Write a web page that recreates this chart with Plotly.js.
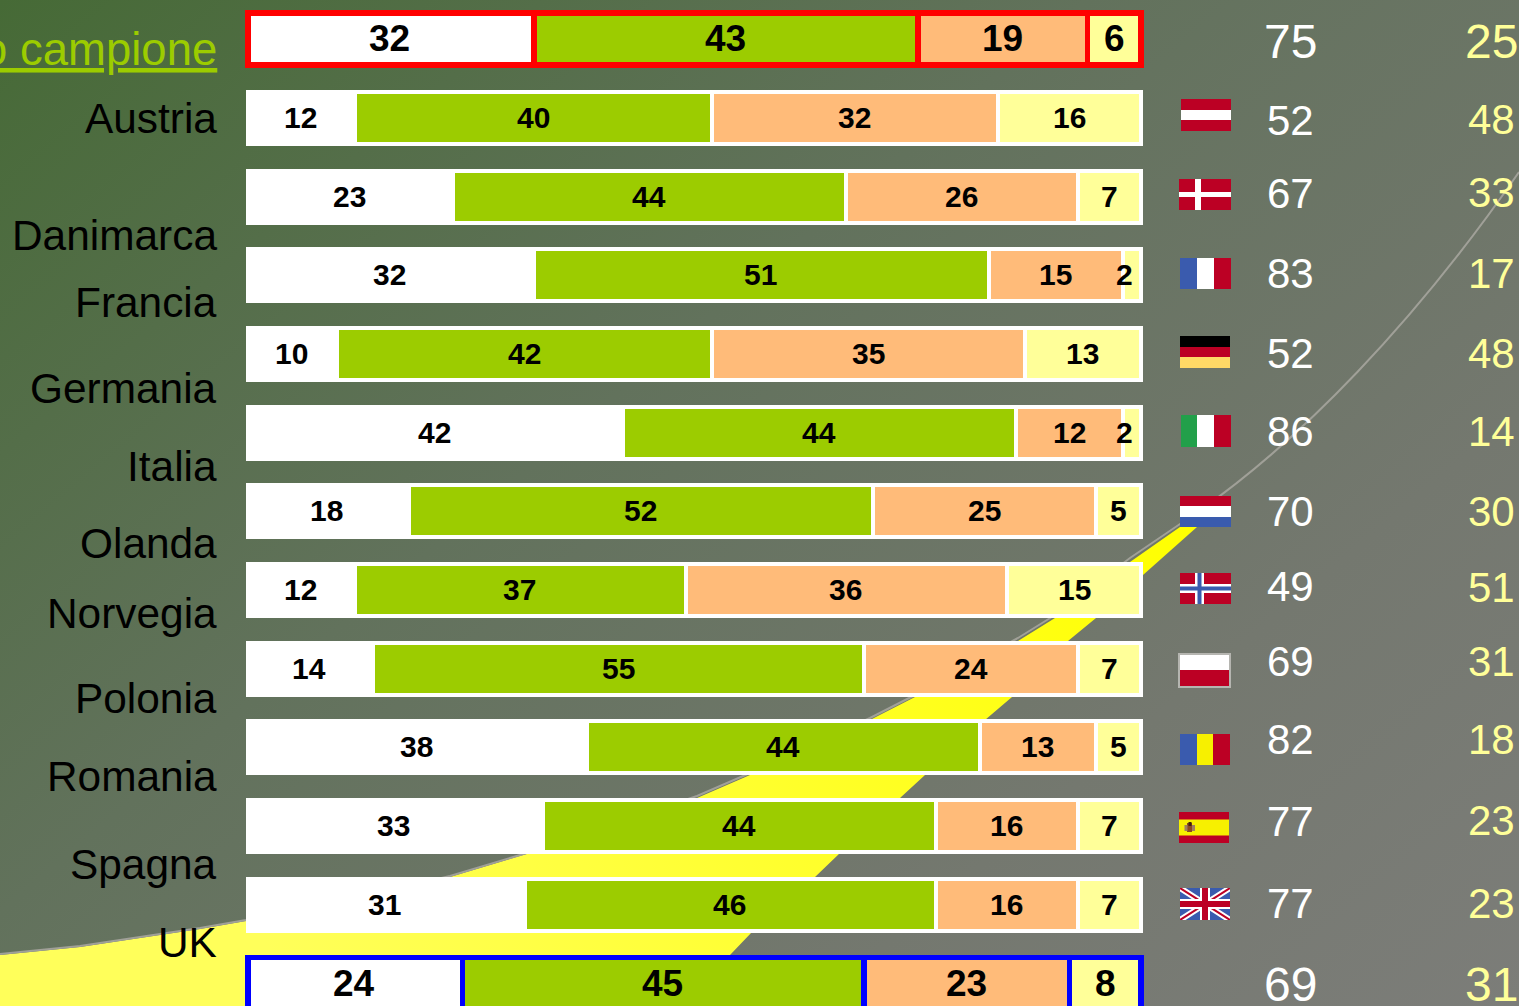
<!DOCTYPE html>
<html>
<head>
<meta charset="utf-8">
<script src="https://cdn.plot.ly/plotly-3.0.1.min.js"></script>
<style>
html,body{margin:0;padding:0;width:1519px;height:1006px;overflow:hidden;
background:linear-gradient(140deg,#466a36 0%,#62725c 40%,#74786f 74%,#7c7d79 100%);}
#chart{width:1519px;height:1006px;}
</style>
</head>
<body>
<div id="chart"></div>
<script>
// ---- data ----
const categories = ["Intero campione","Austria","Danimarca","Francia","Germania","Italia","Olanda","Norvegia","Polonia","Romania","Spagna","UK","Totale"];
const rowLabels = ["Intero campione","Austria","Danimarca","Francia","Germania","Italia","Olanda","Norvegia","Polonia","Romania","Spagna","UK"];
const seriesWhite  = [32,12,23,32,10,42,18,12,14,38,33,31,24];
const seriesGreen  = [43,40,44,51,42,44,52,37,55,44,44,46,45];
const seriesOrange = [19,32,26,15,35,12,25,36,24,13,16,16,23];
const seriesYellow = [ 6,16, 7, 2,13, 2, 5,15, 7, 5, 7, 7, 8];
const totalLeft  = [75,52,67,83,52,86,70,49,69,82,77,77,69];
const totalRight = [25,48,33,17,48,14,30,51,31,18,23,23,31];

// ---- layout constants (pixels) ----
const W = 1519, H = 1006;
const x0Px = 248, x100Px = 1141, row0Px = 39.1, rowStepPx = 78.7;
const labelRightPx = 219;
const labelYPx = [50,118,235,302.5,388,466,543,613.5,698,776,864,942];
const leftColXPx = 1290, rightColXPx = 1491.5;
const leftColYPx  = [42,120.5,193.5,273,354,432,511,586.5,661.5,739.5,821.5,903.5,984];
const rightColYPx = [42,120,193,273,354,432,511,587,661.5,739.5,820.5,903.5,984.5];
const px = v => v / W, py = v => 1 - v / H;
const unit = (x100Px - x0Px) / 100;
const isEnd = i => i === 0 || i === categories.length - 1;
const FONT = '"Liberation Sans", Arial, sans-serif';

const lineColors = categories.map((c, i) => i === 0 ? '#ff0000' : (i === categories.length - 1 ? '#0000ff' : '#ffffff'));
const lineWidths = categories.map((c, i) => isEnd(i) ? 5.5 : 4);
const barHeights = categories.map(() => 52 / rowStepPx);
const textSizes = categories.map((c, i) => isEnd(i) ? 37 : 30);

function seg(values, color) {
  return {
    type: 'bar', orientation: 'h', y: categories, x: values,
    width: barHeights, cliponaxis: true, showlegend: false,
    marker: {color: color, line: {color: lineColors, width: lineWidths}},
    hoverinfo: 'skip'
  };
}
const seriesAll = [seriesWhite, seriesGreen, seriesOrange, seriesYellow];
const seriesShift = [-1.5, -0.5, -0.5, 0];
const traces = [
  seg(seriesWhite, '#ffffff'), seg(seriesGreen, '#9ccc00'),
  seg(seriesOrange, '#ffbb79'), seg(seriesYellow, '#ffff99')
];

const annotations = [];
rowLabels.forEach((t, i) => annotations.push({
  xref: 'paper', yref: 'paper', x: px(labelRightPx), y: py(labelYPx[i]), xanchor: 'right', yanchor: 'middle',
  showarrow: false, text: i === 0 ? '<u>' + t + '</u>' : t,
  font: {family: FONT, size: i === 0 ? 45.5 : 42.4, color: i === 0 ? '#9ccc00' : '#000000'}
}));
categories.forEach((c, i) => {
  annotations.push({xref:'paper',yref:'paper',x:px(leftColXPx),y:py(leftColYPx[i]),xanchor:'center',yanchor:'middle',showarrow:false,
    text:String(totalLeft[i]),font:{family:FONT,size:isEnd(i)?48:42,color:'#ffffff'}});
  annotations.push({xref:'paper',yref:'paper',x:px(rightColXPx),y:py(rightColYPx[i]),xanchor:'center',yanchor:'middle',showarrow:false,
    text:String(totalRight[i]),font:{family:FONT,size:isEnd(i)?48:42,color:'#ffff99'}});
  let cum = 0;
  seriesAll.forEach((vals, s) => {
    const v = vals[i];
    annotations.push({xref:'x',yref:'y',x:cum+v/2,y:c,xshift:v<=2?-8:seriesShift[s],yshift:0.5,xanchor:'center',yanchor:'middle',showarrow:false,
      text:'<b>'+v+'</b>',font:{family:FONT,size:textSizes[i],color:'#000000'}});
    cum += v;
  });
});

// ---- decoration: swoosh and flags ----
const toPx = pts => pts.map((p, i) => (i ? 'L' : 'M') + p[0] + ' ' + p[1]).join(' ');
const P = pts => pts.map((p, i) => (i ? 'L' : 'M') + px(p[0]).toFixed(5) + ',' + py(p[1]).toFixed(5)).join(' ');
const upper = [[0,955],[40,951],[80,947],[120,941],[160,935],[200,929],[246,921],[350,900],[450,877],[530,853],[697,798],[750,775],[870,720],[915,697],[1018,641],[1055,618],[1130,562],[1180,527],[1197,527]];
const lower = [[1143,575],[1096,618],[1068,641],[1012,697],[985,720],[925,775],[900,798],[840,853],[815,877],[752,932],[730,955],[680,1006],[0,1006]];
const lineEdge = [[0,954],[40,950],[80,946],[120,940],[160,934],[200,928],[246,920],[350,899],[450,876],[530,852],[697,796],[750,773],[870,718],[915,695],[1018,638],[1055,615],[1130,558],[1180,524]];
const cur = (a,b,c) => [a,b,c].map((p,i)=>(i?' ':'C')+px(p[0]).toFixed(5)+','+py(p[1]).toFixed(5)).join('');
const shapes = [
  {type:'path',xref:'paper',yref:'paper',layer:'below',path:P(lineEdge)+' '+cur([1300,445],[1420,315],[1519,172]),line:{color:'#a0a098',width:2}}
];

const swooshSvg = `<svg xmlns="http://www.w3.org/2000/svg" width="${W}" height="${H}" viewBox="0 0 ${W} ${H}"><defs><linearGradient id="g" gradientUnits="userSpaceOnUse" x1="1197" y1="527" x2="300" y2="1006"><stop offset="0" stop-color="#ffff00"/><stop offset="1" stop-color="#ffff5a"/></linearGradient></defs><path d="${toPx(upper.concat(lower))} Z" fill="url(#g)"/></svg>`;

const RED='#bc0024', BLUE='#3a5bae';
const r=(x,y,w,h,c)=>`<rect x="${x}" y="${y}" width="${w}" height="${h}" fill="${c}"/>`;
const flagSvg = {
  Austria: r(0,0,50,32,RED)+r(0,11,50,10,'#fff'),
  Danimarca: r(0,0,52,31,RED)+r(16,0,6,31,'#fff')+r(0,13,52,5,'#fff'),
  Francia: r(0,0,17,31,BLUE)+r(17,0,17,31,'#fff')+r(34,0,17,31,RED),
  Germania: r(0,0,50,11,'#000')+r(0,11,50,10,RED)+r(0,21,50,11,'#ffd966'),
  Italia: r(0,0,16,32,'#22a04a')+r(16,0,17,32,'#fff')+r(33,0,17,32,RED),
  Olanda: r(0,0,51,10,RED)+r(0,10,51,11,'#fff')+r(0,21,51,10,BLUE),
  Norvegia: r(0,0,51,31,RED)+r(15,0,9,31,'#fff')+r(0,11,51,9,'#fff')+r(17.5,0,4,31,BLUE)+r(0,13.5,51,4,BLUE),
  Polonia: r(0,0,53,35,'#b5b5b0')+r(2,2,49,15,'#fff')+r(2,17,49,16,RED),
  Romania: r(0,0,17,31,BLUE)+r(17,0,16,31,'#f7f000')+r(33,0,17,31,RED),
  Spagna: r(0,0,50,31,RED)+r(0,7.5,50,16,'#f7f000')+r(8,11,5,9,'#8a4a20')+r(9.5,10,3,4,'#402010')+r(13,13,3,6,'#a08060')+r(5.5,13,3,6,'#a08060'),
  UK: r(0,0,50,32,BLUE)+'<path d="M0 0L50 32M50 0L0 32" stroke="#fff" stroke-width="6"/><path d="M0 0L50 32M50 0L0 32" stroke="#bc0024" stroke-width="2"/>'+r(20,0,10,32,'#fff')+r(0,11,50,10,'#fff')+r(22,0,6,32,RED)+r(0,13,50,6,RED)
};
const flagBox = {Austria:[1181,99,50,32],Danimarca:[1179,179,52,31],Francia:[1180,258,51,31],Germania:[1180,336,50,32],Italia:[1181,415,50,32],Olanda:[1180,496,51,31],Norvegia:[1180,573,51,31],Polonia:[1178,653,53,35],Romania:[1180,734,50,31],Spagna:[1179,812,50,31],UK:[1180,888,50,32]};
const images = [{source:'data:image/svg+xml;charset=utf-8,'+encodeURIComponent(swooshSvg),xref:'paper',yref:'paper',x:0,y:1,sizex:1,sizey:1,sizing:'stretch',xanchor:'left',yanchor:'top',layer:'below'}]
.concat(Object.keys(flagSvg).map(k => {
  const b = flagBox[k];
  const svg = `<svg xmlns="http://www.w3.org/2000/svg" width="${b[2]}" height="${b[3]}" viewBox="0 0 ${b[2]} ${b[3]}">${flagSvg[k]}</svg>`;
  return {source:'data:image/svg+xml;charset=utf-8,'+encodeURIComponent(svg),xref:'paper',yref:'paper',
    x:px(b[0]),y:py(b[1]),sizex:b[2]/W,sizey:b[3]/H,sizing:'stretch',xanchor:'left',yanchor:'top',layer:'above'};
}));

const layout = {
  width: W, height: H, autosize: false,
  margin: {l:0,r:0,t:0,b:0,pad:0},
  paper_bgcolor: 'rgba(0,0,0,0)', plot_bgcolor: 'rgba(0,0,0,0)',
  barmode: 'stack', hovermode: false, showlegend: false,
  xaxis: {range:[-x0Px/unit,(W-x0Px)/unit],visible:false,fixedrange:true},
  yaxis: {type:'category',categoryorder:'array',categoryarray:categories,
          range:[(H-row0Px)/rowStepPx,-row0Px/rowStepPx],visible:false,fixedrange:true},
  annotations, shapes, images,
  font: {family: FONT}
};
Plotly.newPlot('chart', traces, layout, {staticPlot:true,displayModeBar:false});
</script>
</body>
</html>
